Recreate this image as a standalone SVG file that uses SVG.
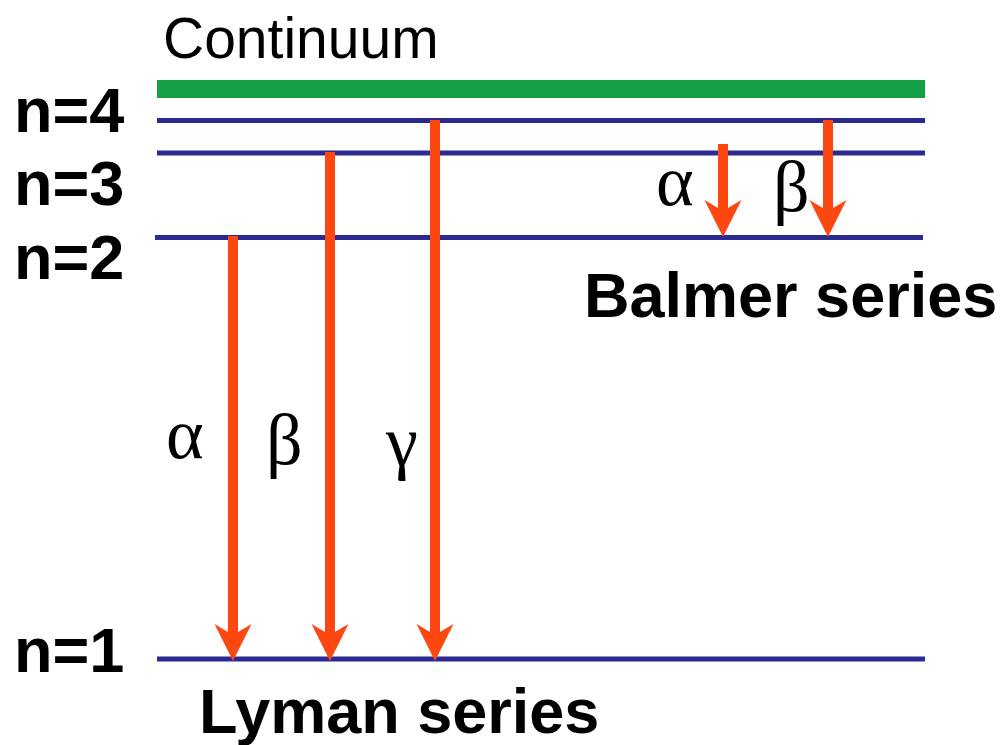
<svg xmlns="http://www.w3.org/2000/svg" width="1004" height="745" viewBox="0 0 1004 745">
  <defs>
    <style>
      .level { stroke: #2B2A92; stroke-width: 5; }
      .continuum { fill: #14A045; }
      .lbl { font-family: "Liberation Sans", Arial, sans-serif; font-weight: bold; font-size: 63px; fill: #000; }
      .cont { font-family: "Liberation Sans", Arial, sans-serif; font-size: 57px; fill: #000; }
      .greek { font-family: "Liberation Serif", "Times New Roman", serif; font-size: 72px; fill: #000; }
      .shaft { stroke: #FC4710; stroke-width: 10; fill: none; }
    </style>
    <marker id="head" markerUnits="userSpaceOnUse" viewBox="-10 -20 40 40" refX="0" refY="0" markerWidth="40" markerHeight="40" orient="auto" overflow="visible">
      <path d="M0,-5 L-8,-18.5 L29,0 L-8,18.5 L0,5 Z" fill="#FC4710"/>
    </marker>
  </defs>
  <rect width="1004" height="745" fill="#fff"/>

  <g id="continuum">
    <rect class="continuum" x="157" y="80" width="768" height="18"/>
    <text class="cont" x="163" y="58">Continuum</text>
  </g>
  <g id="level-n4">
    <line class="level" x1="157" y1="120.5" x2="925" y2="120.5"/>
    <text class="lbl" x="14" y="132">n=4</text>
  </g>
  <g id="level-n3">
    <line class="level" x1="157" y1="153" x2="925" y2="153"/>
    <text class="lbl" x="14" y="205">n=3</text>
  </g>
  <g id="level-n2">
    <line class="level" x1="155" y1="237.5" x2="923" y2="237.5"/>
    <text class="lbl" x="14" y="279">n=2</text>
  </g>
  <g id="level-n1">
    <line class="level" x1="157" y1="659" x2="925" y2="659"/>
    <text class="lbl" x="14" y="672">n=1</text>
  </g>

  <g id="connectors">
    <line class="shaft" x1="233" y1="236" x2="233" y2="632" marker-end="url(#head)"/>
    <line class="shaft" x1="330" y1="152" x2="330" y2="632" marker-end="url(#head)"/>
    <line class="shaft" x1="435" y1="120" x2="435" y2="632" marker-end="url(#head)"/>
    <line class="shaft" x1="723" y1="144" x2="723" y2="208" marker-end="url(#head)"/>
    <line class="shaft" x1="828" y1="120" x2="828" y2="208" marker-end="url(#head)"/>
  </g>

  <g id="lyman-labels">
    <text class="greek" x="166" y="458">α</text>
    <text class="greek" x="266" y="464">β</text>
    <text class="greek" x="386" y="466">γ</text>
    <text class="lbl" x="199" y="733">Lyman series</text>
  </g>
  <g id="balmer-labels">
    <text class="greek" x="656" y="205">α</text>
    <text class="greek" x="773" y="211">β</text>
    <text class="lbl" x="584" y="317">Balmer series</text>
  </g>
</svg>
